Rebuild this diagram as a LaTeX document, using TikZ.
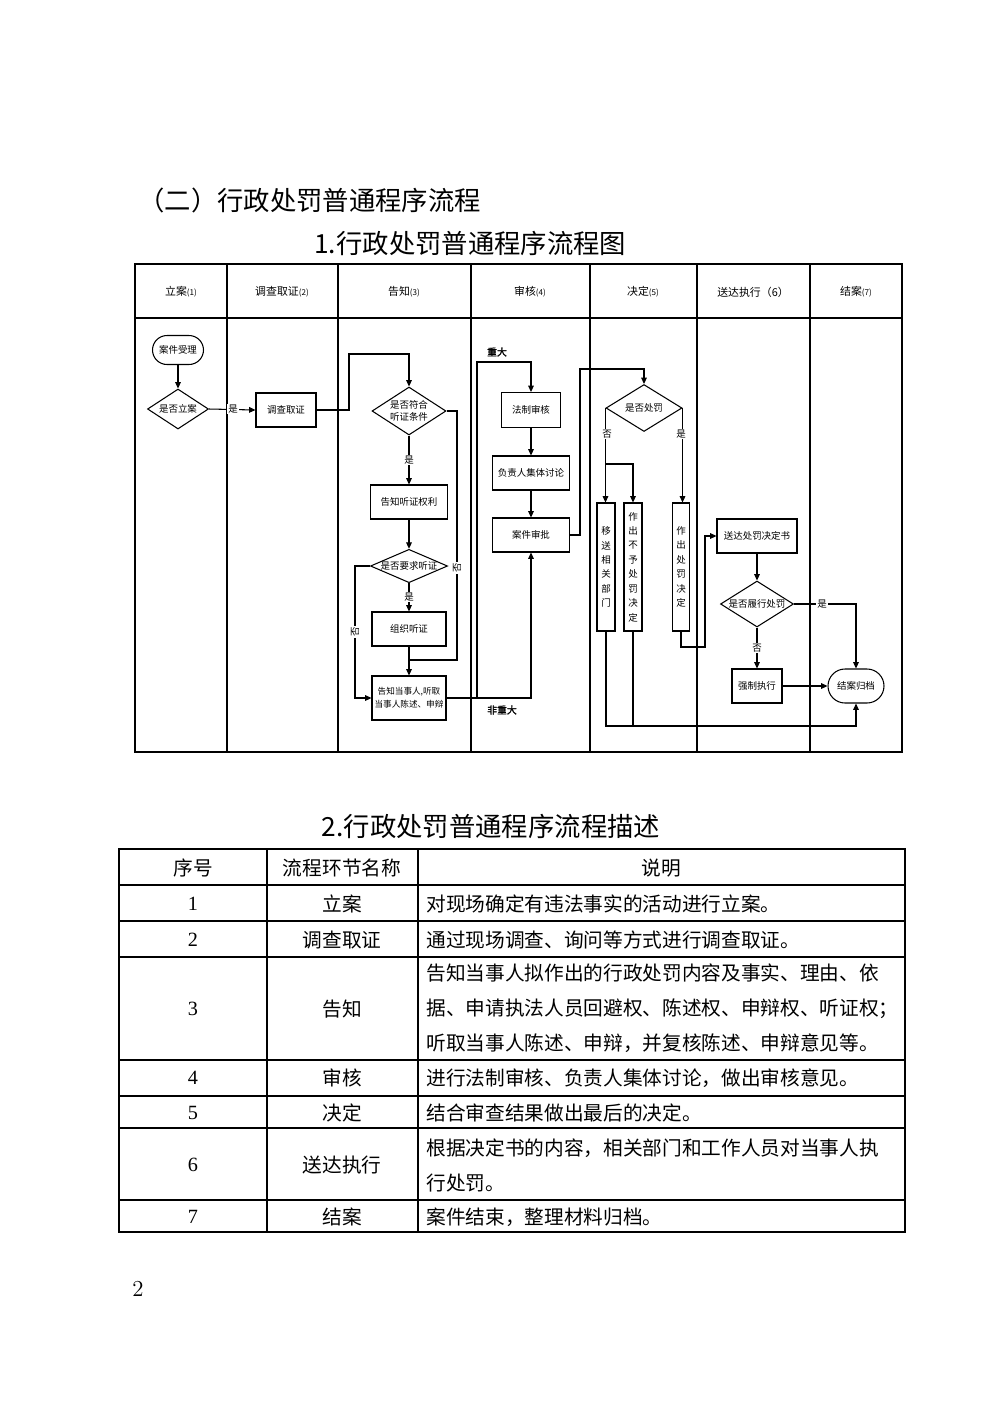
\documentclass[tikz,border=0pt]{standalone}
\usepackage{fontspec}
\newfontfamily\cjk{Noto Sans CJK SC}
\newfontfamily\cjkb{Noto Sans CJK SC}[FakeBold=1.5]
\newfontfamily\tnum{Liberation Serif}
\usetikzlibrary{shapes.geometric,arrows.meta,calc}
\begin{document}
\begin{tikzpicture}[x=0.02cm,y=-0.02cm,
  ln/.style={line width=0.6pt},
  arr/.style={ln,-{Triangle[length=3.6pt,width=3.2pt]}},
  nfont/.style={font=\cjk\fontsize{5.4}{7}\selectfont},
  proc/.style={draw,ln,rectangle,inner sep=0pt,align=center,nfont},
  dec/.style={draw,ln,diamond,inner sep=0pt,align=center,nfont},
  term/.style={draw,ln,rectangle,inner sep=0pt,align=center,nfont},
  vbox/.style={draw,ln,rectangle,inner sep=0pt,align=center,font=\cjk\fontsize{5.4}{8.2}\selectfont,minimum width=0.36cm,minimum height=2.56cm},
  lab/.style={fill=white,inner sep=0.5pt,nfont},
  blab/.style={inner sep=0.5pt,font=\cjkb\fontsize{5.6}{6}\selectfont},
  hdr/.style={inner sep=0pt,font=\cjk\fontsize{6.2}{7}\selectfont},
  tb/.style={inner sep=0pt,font=\cjk\fontsize{11.2}{20}\selectfont},
  tn/.style={inner sep=0pt,font=\tnum\fontsize{11.5}{14}\selectfont},
  tline/.style={line width=0.8pt}
]
\useasboundingbox (0,0) rectangle (1000,1414);
\fill[white] (0,0) rectangle (1000,1414);

% titles
\node[anchor=west,inner sep=0pt,font=\cjk\fontsize{15}{18}\selectfont] (title1) at (138,200) {（二）行政处罚普通程序流程};
\node[anchor=west,inner sep=0pt,font=\cjk\fontsize{15}{18}\selectfont] (title2) at (314,243) {1.行政处罚普通程序流程图};
\node[inner sep=0pt,font=\cjk\fontsize{15}{18}\selectfont] (title3) at (491,826) {2.行政处罚普通程序流程描述};

% swimlane frame
\draw[ln] (135,264) rectangle (902,752);
\draw[ln] (135,318) -- (902,318);
\foreach \xx in {227,338,471,590,697,810} \draw[ln] (\xx,264) -- (\xx,752);
\newcommand{\smallnum}[1]{{\fontsize{4.6}{5}\selectfont(#1)}}
\node[hdr] (h1) at (181,292) {立案\smallnum{1}};
\node[hdr] (h2) at (282,292) {调查取证\smallnum{2}};
\node[hdr] (h3) at (404,292) {告知\smallnum{3}};
\node[hdr] (h4) at (530,292) {审核\smallnum{4}};
\node[hdr] (h5) at (643,292) {决定\smallnum{5}};
\node[hdr] (h6) at (753,292) {送达执行（6）};
\node[hdr] (h7) at (856,292) {结案\smallnum{7}};

% nodes
\node[term,rounded corners=0.29cm,minimum width=1.02cm,minimum height=0.58cm] (a1) at (178,350) {案件受理};
\node[dec,minimum width=1.22cm,minimum height=0.8cm,shape aspect=1.5] (d1) at (178,409) {是否立案};
\node[proc,minimum width=1.2cm,minimum height=0.68cm] (p1) at (286,410) {调查取证};
\node[dec,minimum width=1.48cm,minimum height=0.96cm,shape aspect=1.54] (d2) at (409,411) {是否符合\\听证条件};
\node[proc,minimum width=1.54cm,minimum height=0.68cm] (p2) at (409,502) {告知听证权利};
\node[dec,minimum width=1.48cm,minimum height=0.64cm,shape aspect=2.31] (d3) at (409,566) {是否要求听证};
\node[proc,minimum width=1.48cm,minimum height=0.68cm] (p3) at (409,629) {组织听证};
\node[proc,minimum width=1.48cm,minimum height=0.88cm,font=\cjk\fontsize{4.9}{7.2}\selectfont] (p4) at (409,698) {告知当事人,听取\\当事人陈述、申辩};
\node[proc,minimum width=1.18cm,minimum height=0.7cm] (q1) at (531,410) {法制审核};
\node[proc,minimum width=1.54cm,minimum height=0.68cm] (q2) at (531,473) {负责人集体讨论};
\node[proc,minimum width=1.54cm,minimum height=0.68cm] (q3) at (531,535) {案件审批};
\node[dec,minimum width=1.52cm,minimum height=0.94cm,shape aspect=1.6] (e1) at (644,408) {是否处罚};
\node[vbox] (r1) at (606,567) {移\\送\\相\\关\\部\\门};
\node[vbox] (r2) at (633,567) {作\\出\\不\\予\\处\\罚\\决\\定};
\node[vbox,minimum width=0.34cm] (r3) at (681,567) {作\\出\\处\\罚\\决\\定};
\node[proc,minimum width=1.6cm,minimum height=0.68cm] (s1) at (757,536) {送达处罚决定书};
\node[dec,minimum width=1.46cm,minimum height=0.92cm,shape aspect=1.59] (d5) at (757,604) {是否履行处罚};
\node[proc,minimum width=1.0cm,minimum height=0.68cm] (s2) at (757,686) {强制执行};
\node[term,rounded corners=0.34cm,minimum width=1.12cm,minimum height=0.68cm] (t1) at (856,686) {结案归档};

% connectors
\draw[arr] (a1) -- (d1);
\draw[arr] (d1.east) -- (p1.west);
\node[lab] (l1) at (233,409) {是};
\draw[arr] (p1.east) -- (349,410) -- (349,354) -| (d2.north);
\draw[arr] (d2.south) -- (p2.north);
\node[lab] (l2) at (409,460) {是};
\draw[ln] (d2.east) -- (457,411) -- (457,660) -- (409,660);
\node[lab,rotate=90] (l3) at (457,568) {否};
\draw[arr] (p2.south) -- (d3.north);
\draw[arr] (d3.south) -- (p3.north);
\node[lab] (l4) at (409,597) {是};
\draw[arr] (d3.west) -- (355,566) |- (p4.west);
\node[lab,rotate=90] (l5) at (355,632) {否};
\draw[arr] (p3.south) -- (p4.north);
\draw[arr] (p4.east) -- (477,698) -- (477,362) -| (q1.north);
\coordinate (j1) at (477,698);
\draw[arr] (j1) -| (q3.south);
\node[blab] (l6) at (497,352) {重大};
\node[blab] (l7) at (502,710) {非重大};
\draw[arr] (q1) -- (q2);
\draw[arr] (q2) -- (q3);
\draw[arr] (q3.east) -- (580,535) -- (580,369) -| (e1.north);
\draw[arr] (e1.west) -- (e1.west |- r1.north);
\coordinate (j2) at (606,464);
\draw[arr] (j2) -| (r2.north);
\node[lab] (l8) at (607,434) {否};
\draw[arr] (e1.east) -- (e1.east |- r3.north);
\node[lab] (l9) at (681,434) {是};
\draw[arr] (r3.south) -- (681,647) -- (705,647) |- (s1.west);
\draw[arr] (s1) -- (d5);
\draw[arr] (d5.east) -| (t1.north);
\node[lab] (l10) at (822,604) {是};
\draw[arr] (d5.south) -- (s2.north);
\node[lab] (l11) at (757,648) {否};
\draw[arr] (s2) -- (t1);
\draw[arr] (r1.south) -- (606,726) -| (t1.south);
\draw[ln] (r2.south) -- (633,726);

% table
\draw[tline] (119,849) rectangle (905,1232);
\foreach \yy in {885,921,957,1060,1096,1128,1200} \draw[tline] (119,\yy) -- (905,\yy);
\draw[tline] (267,849) -- (267,1232);
\draw[tline] (418,849) -- (418,1232);
\node[tb] (th1) at (193,868) {序号};
\node[tb] (th2) at (342,868) {流程环节名称};
\node[tb] (th3) at (661,868) {说明};
\node[tn] (n1) at (193,904) {1};
\node[tn] (n2) at (193,940) {2};
\node[tn] (n3) at (193,1009) {3};
\node[tn] (n4) at (193,1078) {4};
\node[tn] (n5) at (193,1113) {5};
\node[tn] (n6) at (193,1165) {6};
\node[tn] (n7) at (193,1217) {7};
\node[tb] (m1) at (342,904) {立案};
\node[tb] (m2) at (342,940) {调查取证};
\node[tb] (m3) at (342,1009) {告知};
\node[tb] (m4) at (342,1078) {审核};
\node[tb] (m5) at (342,1113) {决定};
\node[tb] (m6) at (342,1165) {送达执行};
\node[tb] (m7) at (342,1217) {结案};
\node[tb,anchor=west] (c1) at (426,904) {对现场确定有违法事实的活动进行立案。};
\node[tb,anchor=west] (c2) at (426,940) {通过现场调查、询问等方式进行调查取证。};
\node[tb,anchor=west] (c3a) at (426,973) {告知当事人拟作出的行政处罚内容及事实、理由、依};
\node[tb,anchor=west] (c3b) at (426,1009) {据、申请执法人员回避权、陈述权、申辩权、听证权；};
\node[tb,anchor=west] (c3c) at (426,1043) {听取当事人陈述、申辩，并复核陈述、申辩意见等。};
\node[tb,anchor=west] (c4) at (426,1078) {进行法制审核、负责人集体讨论，做出审核意见。};
\node[tb,anchor=west] (c5) at (426,1113) {结合审查结果做出最后的决定。};
\node[tb,anchor=west] (c6a) at (426,1148) {根据决定书的内容，相关部门和工作人员对当事人执};
\node[tb,anchor=west] (c6b) at (426,1183) {行处罚。};
\node[tb,anchor=west] (c7) at (426,1217) {案件结束，整理材料归档。};

% page number
\node[inner sep=0pt,font=\fontsize{13}{15}\selectfont] (pg) at (138,1289) {2};
\end{tikzpicture}
\end{document}
